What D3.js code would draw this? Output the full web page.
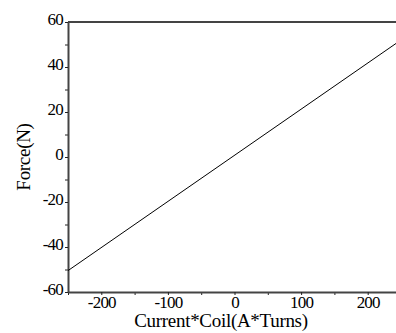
<!DOCTYPE html>
<html>
<head>
<meta charset="utf-8">
<script src="https://cdn.jsdelivr.net/npm/d3@7"></script>
<style>
  body { margin: 0; background: #fff; }
  svg { display: block; }
  text { font-family: "Liberation Serif", "Times New Roman", serif; fill: #000; }
</style>
</head>
<body>
<svg width="396" height="333"></svg>
<script>
// data
const currentTurns = [-250, 250];
const force = [-50.5, 52];
const xTicks = [-200, -100, 0, 100, 200];
const xMinor = [-250, -150, -50, 50, 150, 250];
const yTicks = [-60, -40, -20, 0, 20, 40, 60];
const yMinor = [-50, -30, -10, 10, 30, 50];

const svg = d3.select('svg'),
    margin = {top: 22, right: -5, bottom: 41, left: 68},
    width = 396 - margin.left - margin.right,
    height = 333 - margin.top - margin.bottom;

const x = d3.scaleLinear().domain([-250, 250]).range([0, width]),
    y = d3.scaleLinear().domain([-60, 60]).range([height, 0]);

const fmt = function(d) { return String(d); };

const g = svg.append("g")
    .attr("transform", "translate(" + margin.left + "," + margin.top + ")");

// minor ticks
g.append("g")
    .attr("transform", "translate(0," + height + ")")
    .call(d3.axisBottom(x).tickValues(xMinor).tickSize(3).tickFormat(""))
    .call(a => a.select(".domain").remove());
g.append("g")
    .call(d3.axisLeft(y).tickValues(yMinor).tickSize(3).tickFormat(""))
    .call(a => a.select(".domain").remove());

const xAxis = g.append("g")
    .attr("class", "axis axis--x")
    .attr("transform", "translate(0," + height + ")")
    .call(d3.axisBottom(x).tickValues(xTicks).tickFormat(fmt).tickSize(3).tickSizeOuter(0).tickPadding(1));

const yAxis = g.append("g")
    .attr("class", "axis axis--y")
    .call(d3.axisLeft(y).tickValues(yTicks).tickFormat(fmt).tickSize(3).tickSizeOuter(0).tickPadding(2));

svg.selectAll(".tick line").attr("stroke", "#222");
svg.selectAll(".domain").attr("stroke", "#444").attr("stroke-width", 2);
xAxis.selectAll("text").attr("font-size", "17px").attr("dy", "0.7em").attr("letter-spacing", "-0.8px");
yAxis.selectAll("text").attr("font-size", "17px").attr("dy", "0.14em").attr("letter-spacing", "-0.8px");

// top frame
g.append("line")
    .attr("x1", 0).attr("x2", width)
    .attr("y1", 0).attr("y2", 0)
    .attr("stroke", "#444").attr("stroke-width", 2);

const line = d3.line()
    .x(function(d, i) { return x(currentTurns[i]); })
    .y(function(d) { return y(d); });

g.append("path")
    .datum(force)
    .attr("fill", "none")
    .attr("stroke", "#000")
    .attr("stroke-width", 1)
    .attr("d", line);

svg.append("text")
    .attr("x", 221)
    .attr("y", 327)
    .attr("text-anchor", "middle")
    .attr("font-size", "19px")
    .attr("letter-spacing", "-0.3px")
    .text("Current*Coil(A*Turns)");

svg.append("text")
    .attr("transform", "translate(30,157) rotate(-90)")
    .attr("text-anchor", "middle")
    .attr("font-size", "19px")
    .attr("letter-spacing", "-0.3px")
    .text("Force(N)");
</script>
</body>
</html>
